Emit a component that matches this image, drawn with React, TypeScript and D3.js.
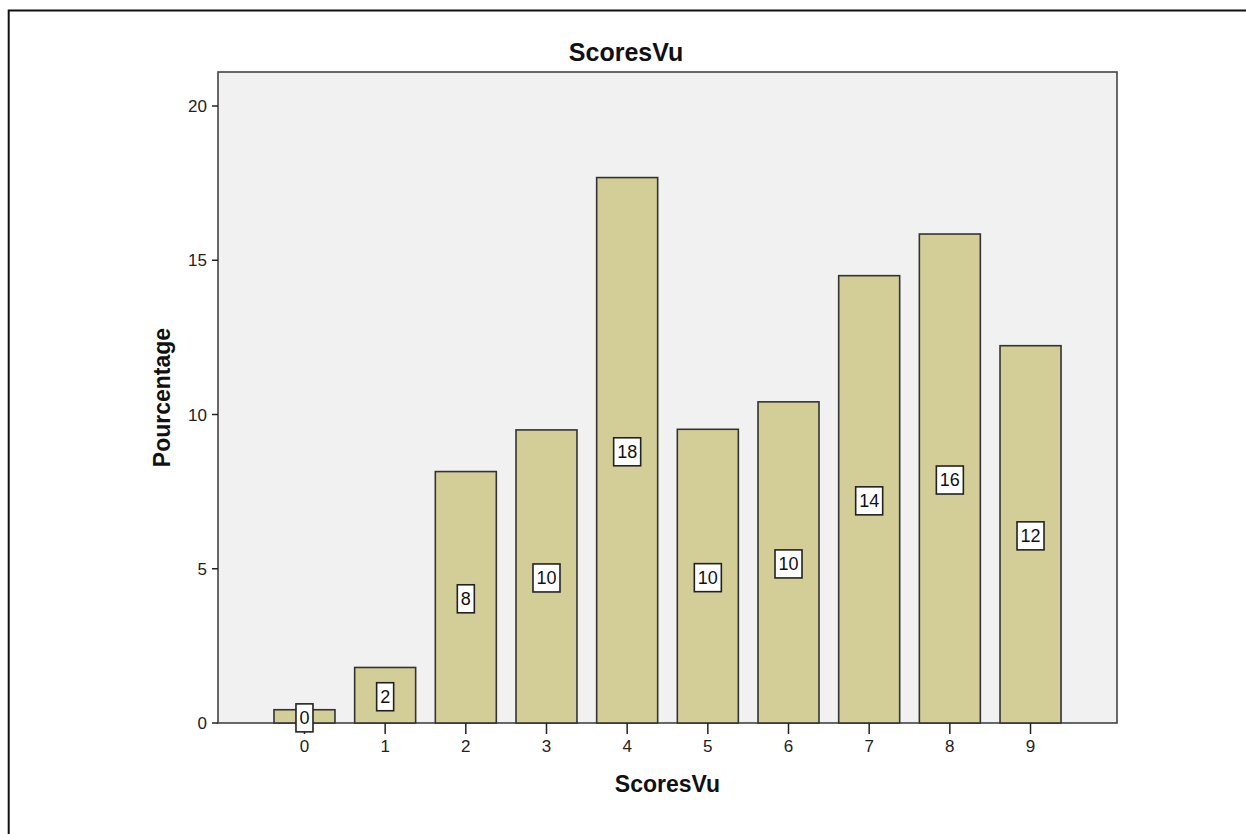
import React from "react";
import * as d3 from "d3";

const categories = ["0", "1", "2", "3", "4", "5", "6", "7", "8", "9"];
const percentages = [0.43, 1.8, 8.15, 9.5, 17.68, 9.52, 10.41, 14.5, 15.85, 12.23];
const barLabels = ["0", "2", "8", "10", "18", "10", "10", "14", "16", "12"];
const yTicks = [0, 5, 10, 15, 20];
const chartTitle = "ScoresVu";
const xTitle = "ScoresVu";
const yTitle = "Pourcentage";

const W = 1246;
const H = 834;
const plot = { left: 218, right: 1117, top: 72, bottom: 723 };
const FONT = "'Liberation Sans', Arial, sans-serif";

export default function App() {
  const x = d3
    .scaleBand<string>()
    .domain(categories)
    .range([plot.left, plot.right])
    .paddingInner(0.244)
    .paddingOuter(0.694);
  const y = d3.scaleLinear().domain([0, 20]).range([plot.bottom, 106]);
  const bw = x.bandwidth();

  return (
    <svg
      width={W}
      height={H}
      style={{ position: "absolute", left: 0, top: 0, background: "#fff" }}
      fontFamily={FONT}
    >
      <rect x={8.7} y={10.5} width={1400} height={1000} fill="none" stroke="#111" strokeWidth={2} />
      <text x={626} y={61} textAnchor="middle" fontSize={25} fontWeight="bold" fill="#111">
        {chartTitle}
      </text>
      <rect
        x={plot.left}
        y={plot.top}
        width={plot.right - plot.left}
        height={plot.bottom - plot.top}
        fill="#f0f1f0"
        stroke="#444"
        strokeWidth={1.6}
      />
      {categories.map((c, i) => {
        const x0 = x(c)!;
        const yTop = y(percentages[i]);
        return (
          <rect
            key={"b" + c}
            x={x0}
            y={yTop}
            width={bw}
            height={y(0) - yTop}
            fill="#d3ce98"
            stroke="#333"
            strokeWidth={1.6}
          />
        );
      })}
      {/* y axis */}
      {yTicks.map((t) => (
        <g key={"yt" + t}>
          <line x1={212} x2={plot.left} y1={y(t)} y2={y(t)} stroke="#222" strokeWidth={1.5} />
          <text x={207} y={y(t)} dy="0.36em" textAnchor="end" fontSize={17} fill="#222">
            {t}
          </text>
        </g>
      ))}
      {/* x axis */}
      {categories.map((c) => {
        const cx = x(c)! + bw / 2;
        return (
          <g key={"xt" + c}>
            <line x1={cx} x2={cx} y1={plot.bottom} y2={734} stroke="#222" strokeWidth={1.5} />
            <text x={cx} y={752} textAnchor="middle" fontSize={17} fill="#222">
              {c}
            </text>
          </g>
        );
      })}
      {/* bar labels */}
      {categories.map((c, i) => {
        const cx = x(c)! + bw / 2;
        const cy = (y(percentages[i]) + y(0)) / 2 + 1.5;
        const lbl = barLabels[i];
        const tw = lbl.length * 10;
        const bwid = tw + 7;
        const bh = 28;
        return (
          <g key={"l" + c}>
            <rect
              x={cx - bwid / 2}
              y={cy - bh / 2}
              width={bwid}
              height={bh}
              fill="#fff"
              stroke="#222"
              strokeWidth={1.6}
            />
            <text x={cx} y={cy} dy="0.36em" textAnchor="middle" fontSize={18} fill="#111">
              {lbl}
            </text>
          </g>
        );
      })}
      <text x={667.5} y={792} textAnchor="middle" fontSize={23} fontWeight="bold" fill="#111">
        {xTitle}
      </text>
      <text
        transform={`translate(170,${(plot.top + plot.bottom) / 2}) rotate(-90)`}
        textAnchor="middle"
        fontSize={23}
        fontWeight="bold"
        fill="#111"
      >
        {yTitle}
      </text>
    </svg>
  );
}
